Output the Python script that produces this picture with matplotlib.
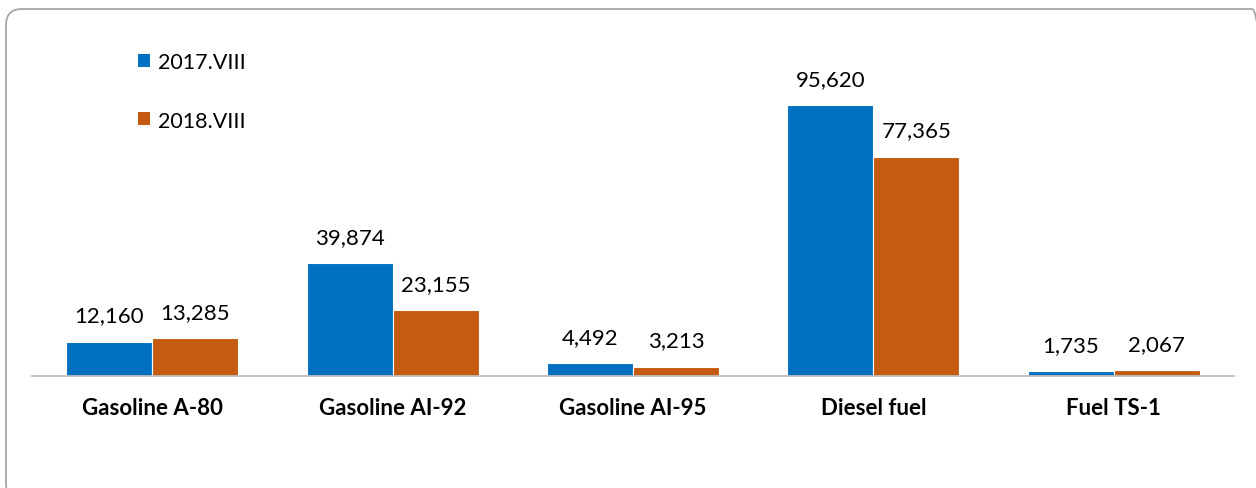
import numpy as np
import matplotlib
matplotlib.use("Agg")
import matplotlib.pyplot as plt
from matplotlib.patches import FancyBboxPatch, Patch
from matplotlib.transforms import IdentityTransform

plt.rcParams['font.family'] = ['Lato', 'DejaVu Sans']

# data
categories = ['Gasoline A-80', 'Gasoline AI-92', 'Gasoline AI-95', 'Diesel fuel', 'Fuel TS-1']
series_names = ['2017.VIII', '2018.VIII']
values_2017 = [12160, 39874, 4492, 95620, 1735]
values_2018 = [13285, 23155, 3213, 77365, 2067]

colors = ['#0070C0', '#C55A11']

W, H = 1256, 489
fig = plt.figure(figsize=(W / 100, H / 100), dpi=100)

# rounded frame around the whole chart (partly off the canvas like the source)
frame = FancyBboxPatch((6, -12), 1262, 491, boxstyle="round,pad=0,rounding_size=16",
                       transform=IdentityTransform(), facecolor='none',
                       edgecolor='#A6A6A6', linewidth=1.3, zorder=0)
fig.patches.append(frame)

ax = fig.add_axes([32 / W, 112 / H, (1234 - 32) / W, 340 / H])
ax.set_facecolor('none')

x = np.arange(len(categories))
bw = 0.358
b1 = ax.bar(x - bw / 2, values_2017, bw, color=colors[0], edgecolor='white', linewidth=0.8)
b2 = ax.bar(x + bw / 2, values_2018, bw, color=colors[1], edgecolor='white', linewidth=0.8)

for bars in (b1, b2):
    for rect in bars:
        v = rect.get_height()
        ax.annotate(f'{v:,.0f}', (rect.get_x() + rect.get_width() / 2, v),
                    xytext=(0, 19), textcoords='offset points',
                    ha='center', va='center', fontsize=16, color='#000000')

ax.set_xlim(-0.5, len(categories) - 0.5)
ax.set_ylim(0, 120000)
ax.set_xticks(x)
ax.set_xticklabels(categories, fontsize=16, fontweight='bold')
ax.tick_params(axis='x', length=0, pad=15)
ax.set_yticks([])
for side in ('top', 'right', 'left'):
    ax.spines[side].set_visible(False)
ax.spines['bottom'].set_color('#BFBFBF')
ax.spines['bottom'].set_linewidth(1.3)

handles = [Patch(facecolor=c, edgecolor='none') for c in colors]
fig.legend(handles, series_names, loc='upper left',
           bbox_to_anchor=(127 / W, 1 - 42 / H), frameon=False, fontsize=15.5,
           handlelength=0.55, handleheight=0.55, handletextpad=0.4, labelspacing=1.8,
           borderpad=0)

fig.savefig('out.png', dpi=100, facecolor='white')
